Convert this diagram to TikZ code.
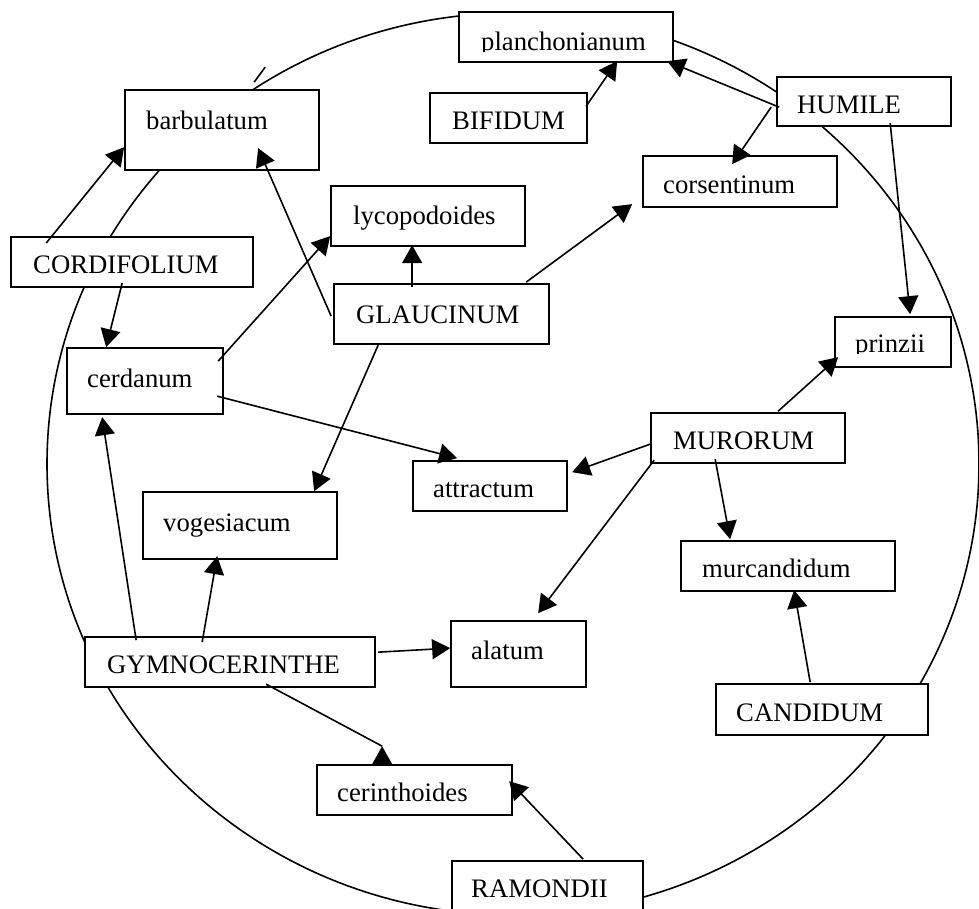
\documentclass[tikz,border=0pt]{standalone}
\usepackage{fontspec}
\setmainfont{Liberation Serif}
\usetikzlibrary{arrows.meta,calc}
\tikzset{
  box/.style={draw, rectangle, line width=1.7pt, fill=white, inner sep=0pt},
  txt/.style={font=\fontsize{26.7}{32}\selectfont, inner sep=0pt, anchor=base west},
  ln/.style={line width=1.6pt},
  arr/.style={line width=1.6pt, -{Triangle[length=18pt,width=20pt]}}
}
\begin{document}
\begin{tikzpicture}[x=1pt,y=-1pt]
\useasboundingbox (0,0) rectangle (979,908);
\clip (0,0) rectangle (979,908);
\fill[white] (0,0) rectangle (979,908);
% big loop
\draw[ln] (513,464) ellipse [x radius=466, y radius=451];
% boxes
\node[box, minimum width=214, minimum height=50] (plan) at (566,37) {};
\node[box, minimum width=157, minimum height=50] (bifid) at (508.5,118) {};
\node[box, minimum width=194, minimum height=80] (barb) at (222,130) {};
\node[box, minimum width=174, minimum height=49] (humile) at (864,101.5) {};
\node[box, minimum width=194, minimum height=51] (cors) at (740,181.5) {};
\node[box, minimum width=194, minimum height=60] (lyco) at (428,216) {};
\node[box, minimum width=215, minimum height=60] (glau) at (441.5,314) {};
\node[box, minimum width=242, minimum height=50] (cordi) at (132,262) {};
\node[box, minimum width=156, minimum height=66] (cerd) at (145,381) {};
\node[box, minimum width=116, minimum height=50] (prinz) at (893,342) {};
\node[box, minimum width=194, minimum height=50] (muro) at (748,438) {};
\node[box, minimum width=154, minimum height=50] (attr) at (490,486) {};
\node[box, minimum width=214, minimum height=50] (murc) at (788,566) {};
\node[box, minimum width=194, minimum height=67] (voges) at (240,525.5) {};
\node[box, minimum width=290, minimum height=50] (gymno) at (230,662) {};
\node[box, minimum width=135, minimum height=66] (alat) at (518.5,654) {};
\node[box, minimum width=212, minimum height=51] (cand) at (822,709.5) {};
\node[box, minimum width=195, minimum height=50] (cerin) at (414.5,790) {};
\node[box, minimum width=191, minimum height=64] (ramon) at (547.5,893) {};
% texts
\begin{scope}
\clip (459,12) rectangle (673,51);
\node[txt] (plan-t) at (481,50) {planchonianum};
\end{scope}
\node[txt] (bifid-t) at (452,129) {BIFIDUM};
\node[txt] (barb-t) at (146,129) {barbulatum};
\node[txt] (humile-t) at (797,113) {HUMILE};
\node[txt] (cors-t) at (663,193) {corsentinum};
\node[txt] (lyco-t) at (353,224) {lycopodoides};
\node[txt] (glau-t) at (356,323) {GLAUCINUM};
\node[txt] (cordi-t) at (33,273) {CORDIFOLIUM};
\node[txt] (cerd-t) at (87,387) {cerdanum};
\begin{scope}
\clip (835,317) rectangle (951,353);
\node[txt] (prinz-t) at (855,352) {prinzii};
\end{scope}
\node[txt] (muro-t) at (673,449) {MURORUM};
\node[txt] (attr-t) at (433,497) {attractum};
\node[txt] (murc-t) at (702,577) {murcandidum};
\node[txt] (voges-t) at (163,531) {vogesiacum};
\node[txt] (gymno-t) at (107,673) {GYMNOCERINTHE};
\node[txt] (alat-t) at (471,659) {alatum};
\node[txt] (cand-t) at (736,721) {CANDIDUM};
\node[txt] (cerin-t) at (337,801) {cerinthoides};
\node[txt] (ramon-t) at (471,897) {RAMONDII};
% tick near barbulatum
\draw[ln] ($(barb.north west)+(130,-7)$) -- ($(barb.north west)+(141,-22)$);
% arrows
\draw[arr] ($(bifid.north west)+(157,14)$) -- ($(plan.north west)+(159,50)$);
\draw[arr] ($(humile.north west)+(3,31)$) -- ($(plan.north west)+(209,50)$);
\draw[arr] ($(humile.north west)+(-5,31)$) -- ($(cors.north west)+(90,9)$);
\draw[arr] ($(glau.north west)+(193,-1)$) -- ($(cors.north west)+(-10,49)$);
\draw[arr] ($(glau.north west)+(79,4)$) -- ($(lyco.north west)+(82,60)$);
\draw[arr] ($(glau.north west)+(-2,33)$) -- ($(barb.north west)+(134,59)$);
\draw[arr] ($(cordi.north west)+(36,7)$) -- ($(barb.north west)+(0,58)$);
\draw[arr] ($(cordi.north west)+(112,47)$) -- ($(cerd.north west)+(40,0)$);
\draw[arr] ($(cerd.north west)+(152,14)$) -- ($(lyco.north west)+(0,51)$);
\draw[arr] ($(cerd.north west)+(151,49)$) -- ($(attr.north west)+(45,-2)$);
\draw[arr] ($(glau.north west)+(45,62)$) -- ($(voges.north west)+(172,0)$);
\draw[arr] ($(gymno.north west)+(52,4)$) -- ($(cerd.north west)+(36,70)$);
\draw[arr] ($(gymno.north west)+(118,6)$) -- ($(voges.north west)+(75,65)$);
\draw[arr] ($(gymno.north west)+(294,16)$) -- ($(alat.north west)+(0,28)$);
\draw[ln] ($(gymno.north west)+(182,48)$) -- ($(cerin.north west)+(66,-18)$);
\fill ($(cerin.north west)+(66,-18)$) -- ($(cerin.north west)+(56,0)$) -- ($(cerin.north west)+(76,0)$) -- cycle;
\draw[arr] ($(ramon.north west)+(132,-1)$) -- ($(cerin.north west)+(193,17)$);
\draw[arr] ($(cand.north west)+(95,-1)$) -- ($(murc.north west)+(114,50)$);
\draw[arr] ($(muro.north west)+(65,47)$) -- ($(murc.north west)+(50,-1)$);
\draw[arr] ($(muro.north west)+(128,-1)$) -- ($(prinz.north west)+(4,41)$);
\draw[arr] ($(muro.north west)+(0,32)$) -- ($(attr.north west)+(160,12)$);
\draw[arr] ($(muro.north west)+(4,48)$) -- ($(alat.north west)+(88,-7)$);
\draw[arr] ($(humile.north west)+(114,47)$) -- ($(prinz.north west)+(76,-2)$);
\end{tikzpicture}
\end{document}
